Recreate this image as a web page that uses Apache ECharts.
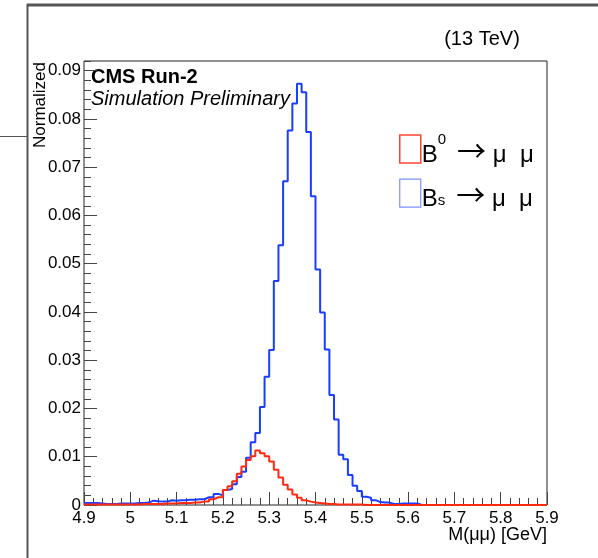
<!DOCTYPE html>
<html>
<head>
<meta charset="utf-8">
<script src="https://cdn.jsdelivr.net/npm/echarts@6/dist/echarts.min.js"></script>
<style>
html,body{margin:0;padding:0;background:#fff;}
#chart{width:598px;height:558px;}
</style>
</head>
<body>
<div id="chart"></div>
<script>
// ---- data ----
const xMin = 4.9;
const xMax = 5.9;
const binWidth = 0.01;
const xTickLabels = ['4.9','5','5.1','5.2','5.3','5.4','5.5','5.6','5.7','5.8','5.9'];
const yTickLabels = ['0','0.01','0.02','0.03','0.04','0.05','0.06','0.07','0.08','0.09'];
const seriesNames = ['B0', 'Bs'];
const xTitle = 'M(μμ) [GeV]';
const yTitle = 'Normalized';

// B0 -> mu mu, 100 bins of 0.01 from 4.90 to 5.90
const b0Values = [
  0.0001,0.0001,0.0001,0.0001,0.0001,0.0001,0.0001,0.0001,0.0001,0.0001,
  0.0001,0.0001,0.0002,0.0002,0.0002,0.0002,0.0002,0.0003,0.0003,0.0003,
  0.0004,0.0004,0.0004,0.0005,0.0005,0.0007,0.0007,0.0012,0.0016,0.0016,
  0.0031,0.0039,0.0049,0.0065,0.0080,0.0093,0.0101,0.0113,0.0107,0.0101,
  0.0090,0.0073,0.0057,0.0042,0.0032,0.0022,0.0015,0.0010,0.0007,0.0005,
  0.0004,0.0003,0.0002,0.0002,0.0001,0.0001,0.0001,0.0001,0.0001,0.0001,
  0,0,0,0,0,0,0,0,0,0,
  0,0,0,0,0,0,0,0,0,0,
  0,0,0,0,0,0,0,0,0,0,
  0,0,0,0,0,0,0,0,0,0
];
// Bs -> mu mu
const bsValues = [
  0.0004,0.0004,0.0004,0.0003,0.0002,0.0002,0.0002,0.0003,0.0003,0.0003,
  0.0003,0.0004,0.0004,0.0005,0.0009,0.0008,0.0007,0.0007,0.0010,0.0009,
  0.0010,0.0010,0.0011,0.0011,0.0012,0.0012,0.0016,0.0016,0.0023,0.0020,
  0.0031,0.0033,0.0043,0.0058,0.0069,0.0098,0.0130,0.0149,0.0203,0.0266,
  0.0321,0.0464,0.0538,0.0671,0.0776,0.0832,0.0873,0.0855,0.0773,0.0640,
  0.0488,0.0399,0.0322,0.0228,0.0177,0.0104,0.0095,0.0062,0.0040,0.0029,
  0.0017,0.0015,0.0010,0.0006,0.0005,0.0005,0.0002,0.0002,0.0003,0.0003,
  0.0003,0.0003,0,0,0,0,0,0,0,0,
  0,0,0,0,0,0,0,0,0,0,
  0,0,0,0,0,0,0,0,0,0
];

// build step outline points (bin low edges + final upper edge)
function stepData(vals) {
  const pts = vals.map((v, i) => [xMin + i * binWidth, v]);
  pts.push([xMax, vals[vals.length - 1]]);
  return pts;
}

const FONT = '"Liberation Sans", Arial, Helvetica, sans-serif';
const RED = '#ff2a12';
const BLUE = '#1b3dff';

const chart = echarts.init(document.getElementById('chart'), null, {renderer: 'canvas'});

const option = {
  animation: false,
  backgroundColor: '#fff',
  grid: {
    left: 84, top: 61, right: 51, bottom: 53,
    outerBoundsMode: 'none', containLabel: false,
    show: true, borderColor: '#222', borderWidth: 1, backgroundColor: 'transparent'
  },
  xAxis: [{
    type: 'value', min: xMin, max: xMax, interval: 0.1,
    axisLine: {show: false},
    axisTick: {show: true, inside: true, length: 13, lineStyle: {color: '#444', width: 1}},
    minorTick: {show: true, splitNumber: 5, length: 7, lineStyle: {color: '#444', width: 1}},
    splitLine: {show: false},
    axisLabel: {
      fontFamily: FONT, fontSize: 17, color: '#000', margin: 5,
      formatter: v => xTickLabels[Math.round((v - xMin) / 0.1)]
    }
  }],
  yAxis: [{
    type: 'value', min: 0, max: 0.092, interval: 0.01, position: 'left',
    axisLine: {show: false},
    axisTick: {show: true, inside: true, length: 13, lineStyle: {color: '#444', width: 1}},
    splitLine: {show: false},
    axisLabel: {
      fontFamily: FONT, fontSize: 17, color: '#000', margin: 3, showMaxLabel: false,
      formatter: v => {
        const k = Math.round(v / 0.01);
        return Math.abs(v - k * 0.01) < 1e-6 ? yTickLabels[k] : '';
      }
    }
  }, {
    type: 'value', min: 0, max: 0.092, interval: 0.002, position: 'left',
    axisLine: {show: false},
    axisTick: {show: true, inside: true, length: 7, lineStyle: {color: '#444', width: 1}},
    axisLabel: {show: false},
    splitLine: {show: false}
  }],
  legend: {
    orient: 'vertical', left: 399, top: 132, itemGap: 11, padding: 0,
    itemWidth: 21, itemHeight: 28, selectedMode: false,
    data: [
      {name: 'B0', icon: 'rect', itemStyle: {color: 'rgba(255,255,255,0)', borderColor: '#ff4433', borderWidth: 1.5}},
      {name: 'Bs', icon: 'rect', itemStyle: {color: 'rgba(255,255,255,0)', borderColor: '#7f8fff', borderWidth: 1.2}}
    ],
    formatter: n => n === 'B0' ? '{b|B}{sup|0}{sp| }{arr|→}{b| μ  μ}' : '{b|B}{sub|s}{sp| }{arr|→}{b| μ  μ}',
    textStyle: {
      fontFamily: FONT, color: '#000', padding: [0, 0, 0, -4],
      rich: {
        b: {fontFamily: FONT, fontSize: 24, color: '#000', padding: [13, 0, 0, 0]},
        sp: {fontFamily: FONT, fontSize: 10, width: 11, color: '#000'},
        arr: {fontFamily: '"Noto Sans CJK SC", "DejaVu Sans", sans-serif', fontSize: 29, color: '#000', padding: [4, 0, 0, 0]},
        sup: {fontFamily: FONT, fontSize: 15, color: '#000', padding: [0, 0, 19, 0]},
        sub: {fontFamily: FONT, fontSize: 15, color: '#000', padding: [15, 0, 0, 0]}
      }
    }
  },
  series: [{
    name: seriesNames[1], type: 'line', step: 'end', showSymbol: false, symbol: 'none',
    xAxisIndex: 0, yAxisIndex: 0,
    data: stepData(bsValues),
    lineStyle: {color: BLUE, width: 2}, itemStyle: {color: BLUE}, z: 3
  }, {
    name: seriesNames[0], type: 'line', step: 'end', showSymbol: false, symbol: 'none',
    xAxisIndex: 0, yAxisIndex: 0,
    data: stepData(b0Values),
    lineStyle: {color: RED, width: 2}, itemStyle: {color: RED}, z: 4
  }],
  graphic: [
    {type: 'line', shape: {x1: 27, y1: 5, x2: 598, y2: 5}, style: {stroke: '#555', lineWidth: 3}, silent: true},
    {type: 'line', shape: {x1: 27.5, y1: 4, x2: 27.5, y2: 558}, style: {stroke: '#555', lineWidth: 2}, silent: true},
    {type: 'line', shape: {x1: 0, y1: 136.5, x2: 27, y2: 136.5}, style: {stroke: '#555', lineWidth: 1}, silent: true},
    {type: 'text', x: 482, y: 39, silent: true,
      style: {text: '(13 TeV)', font: '20px ' + FONT, fill: '#000', align: 'center', verticalAlign: 'middle'}},
    {type: 'text', x: 91, y: 77, silent: true,
      style: {text: 'CMS Run-2', font: 'bold 20px ' + FONT, fill: '#000', align: 'left', verticalAlign: 'middle'}},
    {type: 'text', x: 91, y: 99, silent: true,
      style: {text: 'Simulation Preliminary', font: 'italic 20px ' + FONT, fill: '#000', align: 'left', verticalAlign: 'middle'}},
    {type: 'text', x: 40, y: 62, rotation: Math.PI / 2, silent: true,
      style: {text: yTitle, font: '17px ' + FONT, fill: '#000', align: 'right', verticalAlign: 'middle'}},
    {type: 'text', x: 547, y: 535, silent: true,
      style: {text: xTitle, font: '18px ' + FONT, fill: '#000', align: 'right', verticalAlign: 'middle'}}
  ]
};
chart.setOption(option);
</script>
</body>
</html>
